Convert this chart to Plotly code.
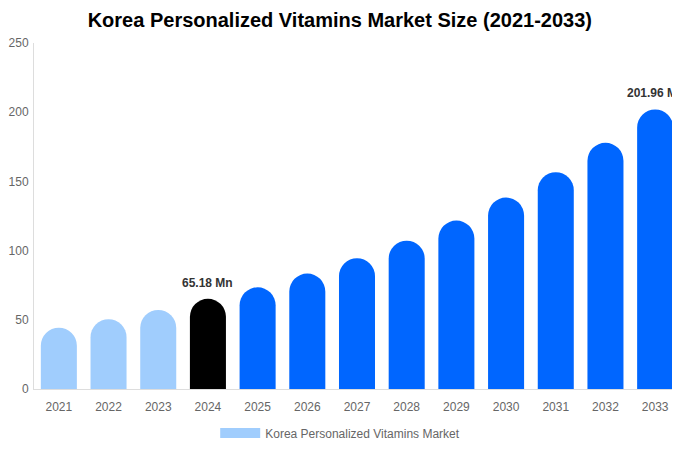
import plotly.graph_objects as go

years = [str(y) for y in range(2021, 2034)]
market_size = [44.3, 50.4, 57.1, 65.18, 73.5, 83.4, 94.5, 107.2, 121.7, 138.3, 156.7, 177.9, 201.96]
bar_colors = ["#a0cdfd"] * 3 + ["#000000"] + ["#0066ff"] * 9
labelled = {"2024": "65.18 Mn", "2033": "201.96 Mn"}
series_name = "Korea Personalized Vitamins Market"

fig = go.Figure()

# main bars, rounded tops
fig.add_trace(
    go.Bar(x=years, y=market_size,
           marker_color=bar_colors,
           marker_line_width=0,
           marker_cornerradius="50%",
           showlegend=False,
           hoverinfo="x+y")
)

# dummy trace just for the wide legend swatch
fig.add_trace(
    go.Scatter(x=[years[0]], y=[None],
               mode="lines",
               line=dict(color="#a0cdfd", width=12),
               name=series_name)
)

# category index instead of the year string (numeric strings confuse annotations)
for yr, txt in labelled.items():
    i = years.index(yr)
    fig.add_annotation(x=i, y=market_size[i],
                       text="<b>" + txt + "</b>",
                       showarrow=False, yanchor="bottom", yshift=7,
                       font=dict(size=12, color="#333333"))

# page body has an 8px margin, so offsets are compensated here
fig.update_layout(
    width=680, height=450,
    template="simple_white",
    font=dict(family="Liberation Sans, Arial, sans-serif", size=12, color="#666666"),
    title=dict(text="<b>Korea Personalized Vitamins Market Size (2021-2033)</b>",
               x=0.488, xanchor="center", y=0.973, yanchor="middle",
               font=dict(size=20, color="#000000")),
    margin=dict(l=26, r=8, t=35, b=69, autoexpand=False),
    bargap=0.275,
    showlegend=True,
    legend=dict(orientation="h", x=0.474, xanchor="center", y=-0.127, yanchor="middle",
                font=dict(size=12, color="#666666"), itemwidth=40),
    plot_bgcolor="white", paper_bgcolor="white",
)
fig.update_xaxes(type="category", range=[-0.5, len(years) - 0.5], showline=True,
                 linecolor="#dddddd", ticks="", showgrid=False, automargin=False,
                 ticklabelstandoff=7,
                 tickfont=dict(size=12, color="#666666"))
fig.update_yaxes(range=[0, 250], dtick=50, showline=True, linecolor="#dddddd",
                 ticks="", showgrid=False, automargin=False,
                 ticklabelstandoff=2,
                 tickfont=dict(size=12, color="#666666"))

fig.write_html("out.html")
